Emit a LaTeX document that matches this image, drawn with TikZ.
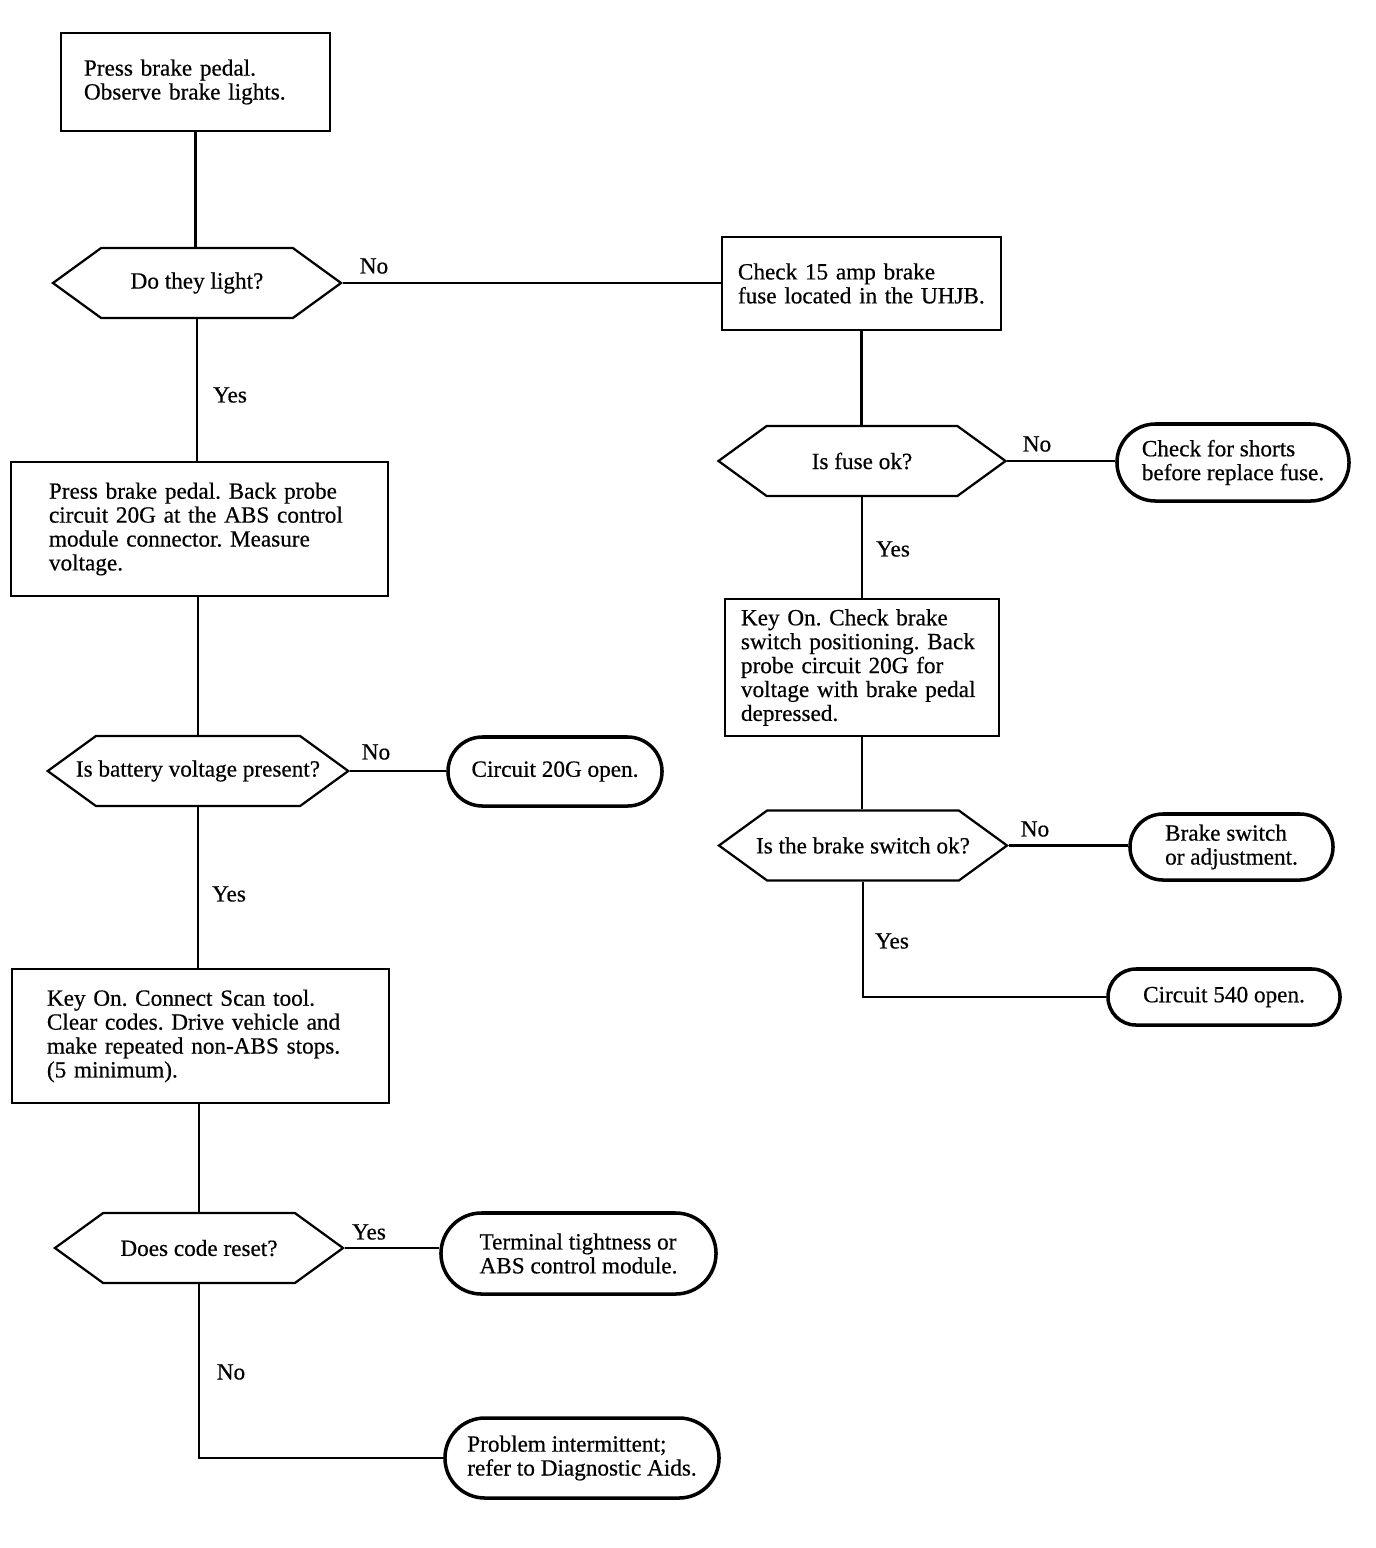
\documentclass[tikz,border=0pt]{standalone}
\usepackage{fontspec}
\setmainfont{Liberation Serif}[FakeBold=0.5]
\usepackage{tikz}
\usetikzlibrary{shapes.symbols,shapes.misc}
\frenchspacing

\begin{document}
\begin{tikzpicture}[x=0.025cm, y=-0.025cm,
    every node/.style={font=\fontsize{16.5}{17}\selectfont},
    box/.style={draw, line width=1.4pt, align=left, inner ysep=0pt},
    test/.style={draw, line width=1.6pt, shape=signal, signal to=east and west,
        signal pointer angle=72, inner sep=0pt, minimum height=1.75cm},
    term/.style={draw, line width=2.5pt, shape=rounded rectangle, align=left, inner sep=0pt},
    conn/.style={line width=1.5pt},
    lbl/.style={inner sep=0pt}]
    \useasboundingbox (0,0) rectangle (1376,1548);

    % Left column
    \node[box, minimum width=6.725cm, minimum height=2.45cm, inner xsep=0.575cm, text width=5.575cm]
        (b1) at (195.5,82) {Press brake pedal.\\Observe brake lights.};
    \node[test, minimum width=7.2cm] (d1) at (197,283) {Do they light?};
    \node[box, minimum width=9.425cm, minimum height=3.35cm, inner xsep=0.95cm, text width=7.525cm]
        (b4) at (199.5,529) {Press brake pedal. Back probe\\circuit 20G at the ABS control\\module connector. Measure\\voltage.};
    \node[test, minimum width=7.5cm, inner xsep=-0.5cm] (d4) at (198,771) {Is battery voltage present?};
    \node[term, minimum width=5.35cm, minimum height=1.725cm] (t4) at (555,771.5) {Circuit 20G open.};
    \node[box, minimum width=9.425cm, minimum height=3.35cm, inner xsep=0.875cm, text width=7.675cm]
        (b5) at (200.5,1036) {Key On. Connect Scan tool.\\Clear codes. Drive vehicle and\\make repeated non-ABS stops.\\(5 minimum).};
    \node[test, minimum width=7.2cm] (d5) at (199,1248) {Does code reset?};
    \node[term, minimum width=6.875cm, minimum height=2.025cm] (t5) at (578.5,1253.5) {Terminal tightness or\\ABS control module.};
    \node[term, minimum width=6.85cm, minimum height=2cm] (t6) at (582,1458) {Problem intermittent;\\refer to Diagnostic Aids.};

    % Right column
    \node[box, minimum width=6.975cm, minimum height=2.325cm, inner xsep=0.4cm, text width=6.175cm]
        (b2) at (861.5,283.5) {Check 15 amp brake\\fuse located in the UHJB.};
    \node[test, minimum width=7.175cm] (d2) at (862,461) {Is fuse ok?};
    \node[term, minimum width=5.8cm, minimum height=1.925cm] (t1) at (1233,462.5) {Check for shorts\\before replace fuse.};
    \node[box, minimum width=6.85cm, minimum height=3.425cm, inner xsep=0.4cm, text width=6.05cm]
        (b3) at (862,667.5) {Key On. Check brake\\switch positioning. Back\\probe circuit 20G for\\voltage with brake pedal\\depressed.};
    \node[test, minimum width=7.2cm, inner xsep=-0.3cm] (d3) at (863,845.5) {Is the brake switch ok?};
    \node[term, minimum width=5.075cm, minimum height=1.65cm] (t2) at (1231.5,847) {Brake switch\\or adjustment.};
    \node[term, minimum width=5.8cm, minimum height=1.4cm] (t3) at (1224,997) {Circuit 540 open.};

    % Connectors
    \draw[conn] (b1.south) -- (b1.south |- d1.north);
    \draw[conn] (d1.east) -- (d1.east -| b2.west);
    \draw[conn] (d1.south) -- (d1.south |- b4.north);
    \draw[conn] (b4.south -| d4.north) -- (d4.north);
    \draw[conn] (d4.east) -- (d4.east -| t4.west);
    \draw[conn] (d4.south) -- (d4.south |- b5.north);
    \draw[conn] (b5.south -| d5.north) -- (d5.north);
    \draw[conn] (d5.east) -- (d5.east -| t5.west);
    \draw[conn] (d5.south) |- (t6.west);
    \draw[conn] (b2.south) -- (b2.south |- d2.north);
    \draw[conn] (d2.east) -- (d2.east -| t1.west);
    \draw[conn] (d2.south) -- (d2.south |- b3.north);
    \draw[conn] (b3.south) -- (b3.south |- d3.north);
    \draw[conn] (d3.east) -- (d3.east -| t2.west);
    \draw[conn] (d3.south) |- (t3.west);

    % Yes / No labels
    \node[lbl] (n1) at (374,266) {No};
    \node[lbl] (y1) at (230,395) {Yes};
    \node[lbl] (n4) at (376,752) {No};
    \node[lbl] (y4) at (229,894) {Yes};
    \node[lbl] (y5) at (369,1232) {Yes};
    \node[lbl] (n5) at (231,1372) {No};
    \node[lbl] (n2) at (1037,444) {No};
    \node[lbl] (y2) at (893,549) {Yes};
    \node[lbl] (n3) at (1035,829) {No};
    \node[lbl] (y3) at (892,941) {Yes};
\end{tikzpicture}
\end{document}
